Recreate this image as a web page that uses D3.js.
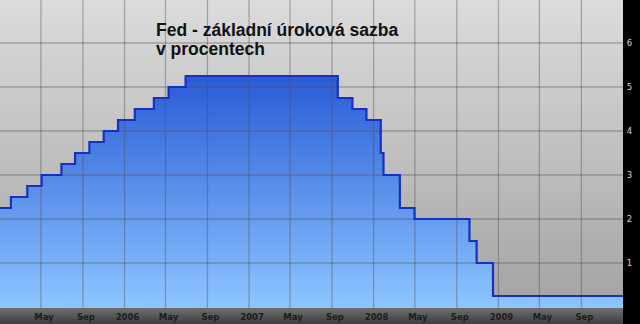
<!DOCTYPE html>
<html>
<head>
<meta charset="utf-8">
<script src="https://cdn.jsdelivr.net/npm/d3@7"></script>
<style>
  html, body { margin: 0; padding: 0; background: #000; }
  svg { display: block; }
</style>
</head>
<body>
<svg id="chart" width="640" height="324"></svg>
<script>
// data: Fed target rate changes (date of change, new rate in %)
const changeDates = ["2005-01-01","2005-02-02","2005-03-22","2005-05-03","2005-06-30","2005-08-09",
  "2005-09-20","2005-11-01","2005-12-13","2006-01-31","2006-03-28","2006-05-10","2006-06-29",
  "2007-09-18","2007-10-31","2007-12-11","2008-01-22","2008-01-30","2008-03-18","2008-04-30",
  "2008-10-08","2008-10-29","2008-12-16","2010-01-01"];
const rates = [2.25,2.5,2.75,3.0,3.25,3.5,3.75,4.0,4.25,4.5,4.75,5.0,5.25,
  4.75,4.5,4.25,3.5,3.0,2.25,2.0,1.5,1.0,0.25,0.25];
const yTicks = [1,2,3,4,5,6];
const monthNames = {4: "May", 8: "Sep"};
const titleLines = ["Fed - základní úroková sazba", "v procentech"];

const parse = d3.timeParse("%Y-%m-%d");
const data = changeDates.map((d, i) => ({ date: parse(d), rate: rates[i] }));

const W = 640, H = 324, plotW = 623, plotH = 308;
const svg = d3.select("#chart");

const x = d3.scaleTime()
  .domain([new Date(2005, 0, 1), new Date(2010, 0, 1)])
  .range([0, plotW]);
const y = d3.scaleLinear().domain([0, 7]).range([307, -1]);

const defs = svg.append("defs");
const bg = defs.append("linearGradient").attr("id", "bg")
  .attr("x1", 0).attr("y1", 0).attr("x2", 0).attr("y2", 1);
bg.append("stop").attr("offset", 0).attr("stop-color", "#dcdcdc");
bg.append("stop").attr("offset", 1).attr("stop-color", "#a3a3a3");

const fillG = defs.append("linearGradient").attr("id", "fillG")
  .attr("gradientUnits", "userSpaceOnUse")
  .attr("x1", 0).attr("y1", 60).attr("x2", 0).attr("y2", plotH);
fillG.append("stop").attr("offset", 0).attr("stop-color", "#2354d3");
fillG.append("stop").attr("offset", 1).attr("stop-color", "#8dc6ff");

const band = defs.append("linearGradient").attr("id", "band")
  .attr("x1", 0).attr("y1", 0).attr("x2", 0).attr("y2", 1);
band.append("stop").attr("offset", 0).attr("stop-color", "#6e6e6e");
band.append("stop").attr("offset", 1).attr("stop-color", "#3e3e3e");

// plot background
svg.append("rect").attr("width", plotW).attr("height", plotH).attr("fill", "url(#bg)");

// area under the step line
const area = d3.area()
  .curve(d3.curveStepAfter)
  .x(d => x(d.date))
  .y0(plotH)
  .y1(d => y(d.rate));
svg.append("path").datum(data).attr("d", area).attr("fill", "url(#fillG)");

// grid
const months = d3.timeMonths(new Date(2005, 4, 1), new Date(2010, 0, 1), 4);
svg.append("g").selectAll("line").data(months).join("line")
  .attr("x1", d => x(d)).attr("x2", d => x(d))
  .attr("y1", 0).attr("y2", plotH)
  .attr("stroke", "#505050").attr("stroke-opacity", 0.4).attr("stroke-width", 1.3);
svg.append("g").selectAll("line").data(yTicks).join("line")
  .attr("x1", 0).attr("x2", plotW)
  .attr("y1", d => y(d)).attr("y2", d => y(d))
  .attr("stroke", "#505050").attr("stroke-opacity", 0.4).attr("stroke-width", 1.3);

// step line
const line = d3.line()
  .curve(d3.curveStepAfter)
  .x(d => x(d.date))
  .y(d => y(d.rate));
svg.append("path").datum(data).attr("d", line)
  .attr("fill", "none").attr("stroke", "#1530c4").attr("stroke-width", 2.2);

// bottom axis band
svg.append("rect").attr("x", 0).attr("y", plotH).attr("width", plotW).attr("height", H - plotH)
  .attr("fill", "url(#band)");
svg.append("g").selectAll("text").data(months).join("text")
  .attr("x", d => x(d) + 3).attr("y", 320)
  .attr("text-anchor", "middle")
  .attr("font-family", "DejaVu Sans, Verdana, sans-serif")
  .attr("font-weight", "bold")
  .attr("font-size", 8.5)
  .attr("fill", "#1c1c1c")
  .text(d => d.getMonth() === 0 ? d.getFullYear() : monthNames[d.getMonth()]);

// right black column with y labels
svg.append("rect").attr("x", plotW).attr("y", 0).attr("width", W - plotW).attr("height", H).attr("fill", "#000");
svg.append("g").selectAll("text").data(yTicks).join("text")
  .attr("x", 629.5).attr("y", d => y(d) + 3)
  .attr("text-anchor", "middle")
  .attr("font-family", "DejaVu Sans, Verdana, sans-serif")
  .attr("font-size", 8.5)
  .attr("fill", "#d8d8d8")
  .text(d => d);

// title
svg.append("g").selectAll("text").data(titleLines).join("text")
  .attr("x", 156).attr("y", (d, i) => 36 + i * 19)
  .attr("font-family", "Liberation Sans, Arial, sans-serif")
  .attr("font-weight", "bold")
  .attr("font-size", 17.5)
  .attr("fill", "#111")
  .text(d => d);
</script>
</body>
</html>
